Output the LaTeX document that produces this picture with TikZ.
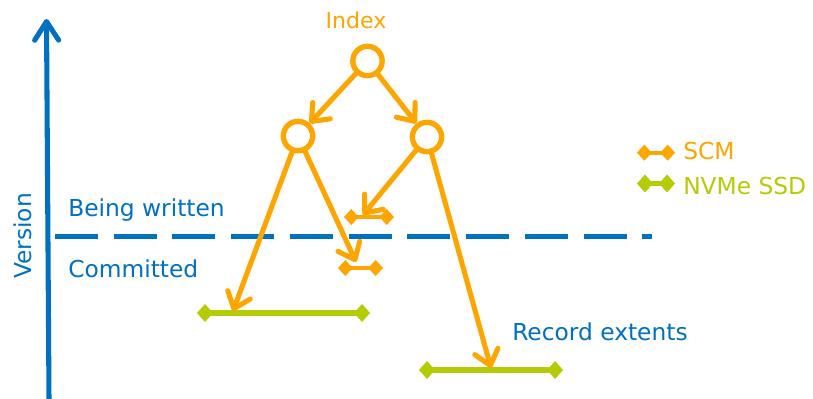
\documentclass[tikz,border=0pt]{standalone}
\usepackage{fontspec}
\setmainfont{DejaVu Sans}
\usetikzlibrary{arrows.meta}

\definecolor{idxorange}{HTML}{FFA500}
\definecolor{ssdgreen}{HTML}{B4CC06}
\definecolor{axisblue}{HTML}{0070C0}

\tikzset{
  treenode/.style={circle, draw=idxorange, line width=4pt, minimum size=22pt, inner sep=0pt},
  ptr/.style={draw=idxorange, line width=3.8pt, line cap=round,
              -{Straight Barb[length=11pt, width=18pt, round]}},
  scmbar/.style={draw=idxorange, fill=idxorange, line width=3.2pt,
              {Diamond[length=11pt, width=12pt]}-{Diamond[length=11pt, width=12pt]}},
  ssdbar/.style={draw=ssdgreen, fill=ssdgreen, line width=3.8pt,
              {Diamond[length=12pt, width=13.5pt]}-{Diamond[length=12pt, width=13.5pt]}},
  lbl/.style={font=\fontsize{17.5pt}{20pt}\selectfont, inner sep=0pt},
}

\begin{document}
\begin{tikzpicture}[x=0.75pt, y=-0.75pt]
  \useasboundingbox (0,0) rectangle (813,399);

  % version axis
  \coordinate (axlow) at (49,399);
  \coordinate (axhigh) at (46.5,19);
  \draw[axisblue, line width=3.8pt, line cap=round,
        -{Straight Barb[length=14pt, width=18pt, round]}] (axlow) -- (axhigh);
  \node[lbl, text=axisblue, rotate=90, anchor=base] (version) at (31.5,236) {Version};

  % boundary between committed and in-flight versions
  \coordinate (dash0) at (55,236.7);
  \coordinate (dash1) at (652,236.7);
  \draw[axisblue, line width=3.8pt, dash pattern=on 32.25pt off 11.8pt] (dash0) -- (dash1);
  \node[lbl, text=axisblue, anchor=base west] (being) at (68,216) {Being written};
  \node[lbl, text=axisblue, anchor=base west] (committed) at (68,277) {Committed};

  % index tree
  \node[lbl, text=idxorange, font=\fontsize{16.5pt}{18pt}\selectfont] (indexlbl) at (356,20) {Index};
  \node[treenode] (root) at (367.5,61) {};
  \node[treenode] (left) at (298,136) {};
  \node[treenode] (right) at (427,137) {};

  % SCM extents
  \coordinate (scmAa) at (344,217);
  \coordinate (scmAb) at (394,217);
  \coordinate (scmBa) at (338,268);
  \coordinate (scmBb) at (383,268);
  \draw[scmbar] (scmAa) -- (scmAb);
  \draw[scmbar] (scmBa) -- (scmBb);

  % NVMe SSD extents
  \coordinate (ssdAa) at (197,313);
  \coordinate (ssdAb) at (370,313);
  \coordinate (ssdBa) at (419,370);
  \coordinate (ssdBb) at (563,370);
  \draw[ssdbar] (ssdAa) -- (ssdAb);
  \draw[ssdbar] (ssdBa) -- (ssdBb);

  % pointer targets on the extents
  \coordinate (tA) at (363,215);
  \coordinate (tB) at (356,262);
  \coordinate (tC) at (233,311);
  \coordinate (tD) at (491,368);

  % pointers
  \draw[ptr] (root) -- (left);
  \draw[ptr] (root) -- (right);
  \draw[ptr] (left) -- (tC);
  \draw[ptr] (left) -- (tB);
  \draw[ptr] (right) -- (tA);
  \draw[ptr] (right) -- (tD);

  \node[lbl, text=axisblue, anchor=base west] (records) at (512,340) {Record extents};

  % legend
  \coordinate (legAa) at (637,152.7);
  \coordinate (legAb) at (675,152.7);
  \coordinate (legBa) at (637,183.5);
  \coordinate (legBb) at (675,183.5);
  \draw[scmbar] (legAa) -- (legAb);
  \draw[ssdbar] (legBa) -- (legBb);
  \node[lbl, text=idxorange, anchor=base west] (scmlbl) at (683,160) {SCM};
  \node[lbl, text=ssdgreen, anchor=base west] (ssdlbl) at (683,195) {NVMe SSD};
\end{tikzpicture}
\end{document}
